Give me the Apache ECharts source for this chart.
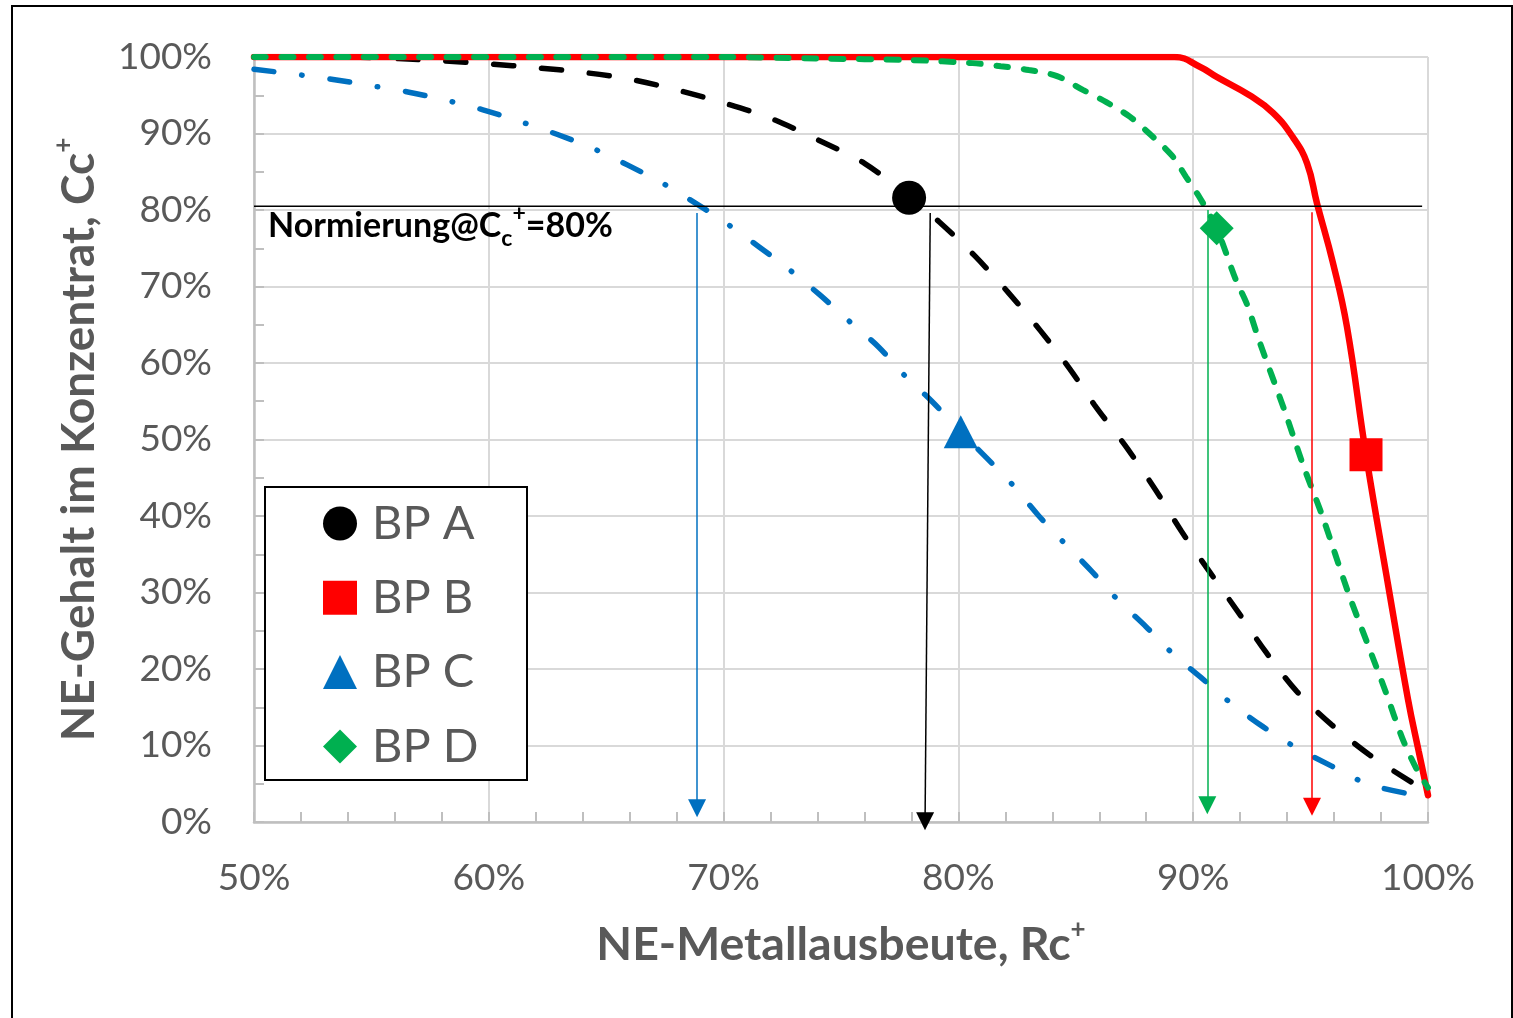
<!DOCTYPE html>
<html>
<head>
  <meta charset="utf-8">
  <title>NE-Gehalt vs NE-Metallausbeute</title>
  <script src="https://cdn.jsdelivr.net/npm/echarts@6.0.0/dist/echarts.min.js"></script>
</head>
<body style="margin: 0; background: #fff">
  <div id="chart_div" style="width: 1513px; height: 1018px;"></div>
  <script>
    // curves: [Rc+ in %, Cc+ in %]
    var curveA = [[50, 100], [54, 100], [58, 99.5], [60, 99.1], [62, 98.6], [64, 98], [66, 97.1], [68, 95.7],
      [70, 94], [72, 92], [74, 89.2], [76, 86.1], [78, 81.5], [79.2, 78.4], [80.7, 74], [82.1, 69.3],
      [83.5, 64.2], [84.75, 59.2], [85.8, 54.5], [87.2, 48.8], [88.4, 43.4], [89.5, 38], [90.7, 32.7],
      [91.9, 27.5], [93.1, 22.2], [94.4, 17.1], [95.9, 12.7], [97.5, 8.8], [99.3, 5.2], [100, 4]];
    var curveB = [[50, 100], [60, 100], [70, 100], [80, 100], [86, 100], [89.2, 100], [90.3, 98.7],
      [91, 97.4], [92.4, 95], [93.4, 92.7], [94.25, 89.5], [94.85, 86.1], [95.27, 80.9], [95.95, 73.1],
      [96.55, 64.7], [97.36, 48], [98.3, 31], [99.15, 16], [99.6, 9.3], [100, 3.5]];
    var curveC = [[50, 98.4], [51.6, 97.8], [53.3, 97.1], [54.9, 96.3], [56.6, 95.4], [58.1, 94.4], [59.75, 93.1],
      [61.3, 91.6], [62.9, 89.9], [64.4, 88.1], [65.9, 85.9], [67.4, 83.5], [68.8, 80.9], [70.1, 78.3],
      [71.5, 75.2], [72.8, 72.2], [74.1, 68.9], [75.3, 65.6], [76.6, 62.1], [77.7, 58.4], [78.9, 54.9],
      [80.1, 51], [81.2, 47.6], [82.3, 44.1], [83.4, 40.1], [84.5, 36.5], [85.7, 32.7], [86.8, 29],
      [88, 25.5], [89.2, 21.8], [90.4, 18.7], [91.7, 15.3], [93, 12.4], [94.4, 9.7], [95.9, 7.3],
      [97.4, 5], [99, 3.8]];
    var curveD = [[50, 100], [60, 100], [70, 100], [74, 99.8], [78, 99.6], [80.6, 99.2], [81.8, 98.8], [83, 98.3],
      [84.2, 97.5], [85.3, 95.7], [86.3, 94.1], [87.3, 92.2], [88.2, 89.8], [89.1, 87.1], [89.7, 84.3],
      [90.3, 81.5], [91, 77.6], [91.8, 71], [92.3, 67.6], [92.8, 63], [93.9, 53.7], [94.7, 46.5],
      [95.5, 40], [96.6, 30], [97.4, 23.5], [98.2, 17], [98.9, 11], [99.5, 7], [100, 4.5]];

    // Betriebspunkte (markers)
    var names = ['BP A', 'BP B', 'BP C', 'BP D'];
    var points = [[77.9, 81.6], [97.36, 48], [80.1, 51], [91, 77.6]];
    var colors = ['#000000', '#ff0000', '#0070c0', '#00b050'];

    // Normierung line and arrows down to the x axis
    var normLine = [[50, 80.5], [99.75, 80.5]];
    var arrowStart = [[68.87, 79.6], [78.8, 79.6], [90.6, 80], [95.06, 79.7]];
    var arrowEnd = [[68.87, 1.8], [78.58, 0.1], [90.6, 2.2], [95.06, 2]];
    var arrowColors = ['#0070c0', '#000000', '#00b050', '#ff0000'];

    var font = 'Lato';
    var gray = '#595959';

    var dom = document.getElementById('chart_div');
    var myChart = echarts.init(dom, null, { renderer: 'canvas' });

    function curve(name, data, color, width, dash, smooth) {
      return {
        name: name,
        type: 'line',
        data: data,
        smooth: smooth,
        symbol: 'none',
        silent: true,
        z: 2,
        lineStyle: { color: color, width: width, type: dash, cap: 'round' }
      };
    }

    var series = [
      curve('Kurve C', curveC, colors[2], 5.5, [20, 28, 0.5, 28], 0.3),
      curve('Kurve A', curveA, colors[0], 5.5, [20, 28], 0.3),
      curve('Kurve B', curveB, colors[1], 6.5, 'solid', 0.45),
      curve('Kurve D', curveD, colors[3], 6, [12, 15.5], 0.3),
      {
        name: 'Normierung',
        type: 'line',
        data: normLine,
        symbol: 'none',
        silent: true,
        z: 3,
        lineStyle: { color: '#000', width: 1.5 }
      }
    ];

    for (var i = 0; i < arrowStart.length; i++) {
      series.push({
        name: 'Pfeil ' + i,
        type: 'lines',
        coordinateSystem: 'cartesian2d',
        clip: false,
        silent: true,
        z: 3,
        symbol: ['none', 'triangle'],
        symbolSize: 18,
        lineStyle: { color: arrowColors[i], width: 1.5, opacity: 1, curveness: 0 },
        data: [{ coords: [arrowStart[i], arrowEnd[i]] }]
      });
    }

    var symbols = ['circle', 'rect', 'triangle', 'diamond'];
    var sizes = [34, 33, [34, 33], 34];
    for (var j = 0; j < names.length; j++) {
      series.push({
        name: names[j],
        type: 'scatter',
        data: [points[j]],
        symbol: symbols[j],
        symbolSize: sizes[j],
        z: 4,
        itemStyle: { color: colors[j], opacity: 1 }
      });
    }

    var titleRich = {
      sup: { fontFamily: font, fontWeight: 'bold', fontSize: 26, lineHeight: 22, verticalAlign: 'top', color: gray }
    };

    var option = {
      animation: false,
      backgroundColor: '#fff',
      grid: { left: 254, right: 85, top: 57, bottom: 196 },
      legend: {
        data: names,
        orient: 'vertical',
        left: 265,
        top: 487,
        padding: [13, 20, 13, 58],
        itemWidth: 34,
        itemHeight: 34,
        itemGap: 27.3,
        z: 6,
        textStyle: { fontFamily: font, fontSize: 47, lineHeight: 46, color: gray, padding: [0, 0, 0, 10] }
      },
      xAxis: {
        type: 'value',
        min: 50,
        max: 100,
        interval: 10,
        axisLine: { show: true, lineStyle: { color: '#bfbfbf', width: 2.5 } },
        axisTick: { show: true, inside: true, length: 10, lineStyle: { color: '#bfbfbf', width: 2 } },
        minorTick: { show: true, splitNumber: 5, length: 10, lineStyle: { color: '#bfbfbf', width: 2 } },
        splitLine: { show: true, lineStyle: { color: '#d9d9d9', width: 2 } },
        axisLabel: { formatter: '{value}%', fontFamily: font, fontSize: 37, color: gray, margin: 38 },
        name: 'NE-Metallausbeute, Rc{sup|+}',
        nameLocation: 'middle',
        nameGap: 95,
        nameTextStyle: {
          fontFamily: font, fontWeight: 'bold', fontSize: 46.5, lineHeight: 56, color: gray, rich: titleRich
        }
      },
      yAxis: {
        type: 'value',
        min: 0,
        max: 100,
        interval: 10,
        axisLine: { show: true, lineStyle: { color: '#bfbfbf', width: 2.5 } },
        axisTick: { show: true, inside: true, length: 10, lineStyle: { color: '#bfbfbf', width: 2 } },
        minorTick: { show: true, splitNumber: 2, length: 10, lineStyle: { color: '#bfbfbf', width: 2 } },
        splitLine: { show: true, lineStyle: { color: '#d9d9d9', width: 2 } },
        axisLabel: { formatter: '{value}%', fontFamily: font, fontSize: 37, color: gray, margin: 42 },
        name: 'NE-Gehalt im Konzentrat, Cc{sup|+}',
        nameLocation: 'middle',
        nameGap: 146,
        nameTextStyle: {
          fontFamily: font, fontWeight: 'bold', fontSize: 46, lineHeight: 56, color: gray, rich: titleRich
        }
      },
      graphic: [
        {
          type: 'rect', z: 3, silent: true,
          shape: { x: 265, y: 487, width: 262, height: 293 },
          style: { fill: '#fff', stroke: '#000', lineWidth: 2 }
        },
        {
          type: 'text', z: 5, silent: true, x: 268, y: 226,
          style: {
            text: '{m|Normierung@C}{sub|c}{sup|+}{m|=80%}',
            verticalAlign: 'middle',
            align: 'left',
            rich: {
              m: { fontFamily: font, fontWeight: 'bold', fontSize: 34, lineHeight: 48, fill: '#000' },
              sub: { fontFamily: font, fontWeight: 'bold', fontSize: 23, lineHeight: 21, verticalAlign: 'bottom', fill: '#000' },
              sup: { fontFamily: font, fontWeight: 'bold', fontSize: 23, lineHeight: 28, verticalAlign: 'top', fill: '#000' }
            }
          }
        },
        {
          type: 'rect', z: 10, silent: true,
          shape: { x: 12, y: 6, width: 1500, height: 1040 },
          style: { fill: 'none', stroke: '#000', lineWidth: 2 }
        }
      ],
      series: series
    };

    myChart.setOption(option);
    window.addEventListener('resize', myChart.resize);
  </script>
</body>
</html>
